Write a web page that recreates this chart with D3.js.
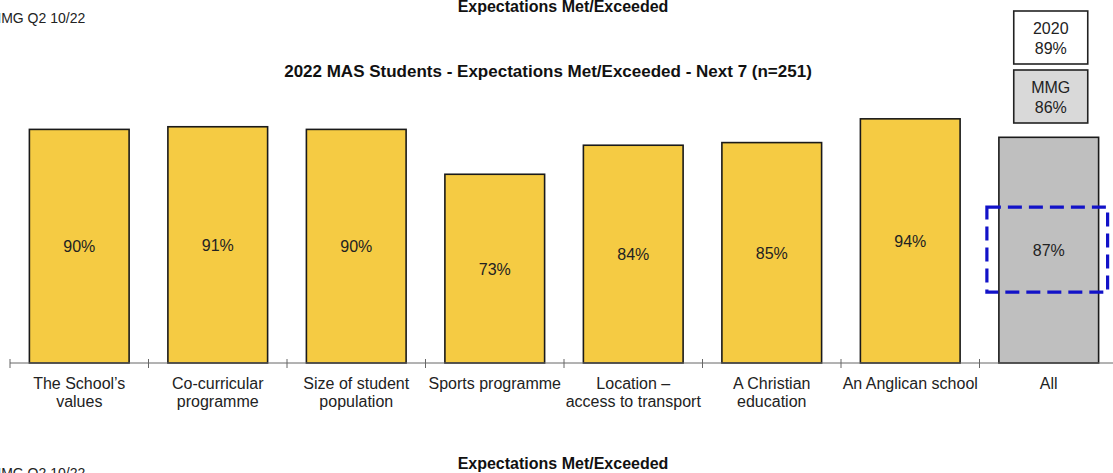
<!DOCTYPE html>
<html>
<head>
<meta charset="utf-8">
<script src="https://cdn.jsdelivr.net/npm/d3@7/dist/d3.min.js"></script>
<style>
  html, body { margin: 0; padding: 0; background: #fff; overflow: hidden; }
  svg { display: block; font-family: "Liberation Sans", Arial, sans-serif; }
</style>
</head>
<body>
<svg id="chart" width="1113" height="473"></svg>
<script>
// ---- data ----
const categories = [
  ["The School\u2019s", "values"],
  ["Co-curricular", "programme"],
  ["Size of student", "population"],
  ["Sports programme"],
  ["Location \u2013", "access to transport"],
  ["A Christian", "education"],
  ["An Anglican school"],
  ["All"]
];
const values = [90, 91, 90, 73, 84, 85, 94, 87];
const highlightIndex = 7; // "All"
const comparisonLabels = ["2020", "MMG"];
const comparisonValues = [89, 86];
const chartTitle = "2022 MAS Students - Expectations Met/Exceeded - Next 7 (n=251)";
const headerText = "Expectations Met/Exceeded";
const footerCode = "MMG Q2 10/22";

// ---- layout ----
const svg = d3.select("#chart");
const W = 1113, H = 473;
const baseY = 363;

const keys = categories.map((c, i) => i);
const x = d3.scaleBand().domain(keys).range([10, 1118]).paddingInner(0.28).paddingOuter(0.14);
const y = d3.scaleLinear().domain([1.5, 100]).range([baseY, 103]);
const gap = x.step() - x.bandwidth();

// header / footer texts
svg.append("text").attr("x", 563).attr("y", 11.5).attr("text-anchor", "middle")
  .attr("font-size", 16).attr("font-weight", "bold").attr("fill", "#111").text(headerText);
svg.append("text").attr("x", -10.5).attr("y", 23)
  .attr("font-size", 14).attr("fill", "#222").text(footerCode);
svg.append("text").attr("x", 563).attr("y", 469).attr("text-anchor", "middle")
  .attr("font-size", 16).attr("font-weight", "bold").attr("fill", "#111").text(headerText);
svg.append("text").attr("x", -10.5).attr("y", 478)
  .attr("font-size", 14).attr("fill", "#222").text(footerCode);

// title
svg.append("text").attr("x", 548).attr("y", 77).attr("text-anchor", "middle")
  .attr("font-size", 17).attr("font-weight", "bold").attr("fill", "#111").text(chartTitle);

// bars
svg.append("g").selectAll("rect").data(values).join("rect")
  .attr("x", (d, i) => x(i))
  .attr("y", d => y(d))
  .attr("width", x.bandwidth())
  .attr("height", d => baseY - y(d))
  .attr("fill", (d, i) => i === highlightIndex ? "#bfbfbf" : "#f5cb43")
  .attr("stroke", "#1a1a1a")
  .attr("stroke-width", 1.6);

// value labels
svg.append("g").selectAll("text").data(values).join("text")
  .attr("x", (d, i) => x(i) + x.bandwidth() / 2)
  .attr("y", d => (y(d) + baseY) / 2 + 6)
  .attr("text-anchor", "middle")
  .attr("font-size", 16).attr("fill", "#222")
  .text(d => d + "%");

// axis
const axisG = svg.append("g");
axisG.append("line").attr("x1", 10).attr("x2", W + 5).attr("y1", baseY).attr("y2", baseY)
  .attr("stroke", "#666").attr("stroke-width", 1);
const tickXs = keys.map(i => x(i) - gap / 2).concat([x(keys.length - 1) + x.bandwidth() + gap / 2]);
axisG.selectAll("line.tick").data(tickXs).join("line").attr("class", "tick")
  .attr("x1", d => d).attr("x2", d => d).attr("y1", baseY - 4).attr("y2", baseY + 5)
  .attr("stroke", "#666").attr("stroke-width", 1);

// category labels
const catG = svg.append("g").selectAll("text").data(categories).join("text")
  .attr("x", (d, i) => x(i) + x.bandwidth() / 2)
  .attr("y", 389)
  .attr("text-anchor", "middle")
  .attr("font-size", 16).attr("fill", "#222");
catG.selectAll("tspan").data(d => d).join("tspan")
  .attr("x", function () { return d3.select(this.parentNode).attr("x"); })
  .attr("dy", (d, j) => j === 0 ? 0 : 18)
  .text(d => d);

// highlight dashed box around the "All" label
const hx = x(highlightIndex), hv = values[highlightIndex];
const hcy = (y(hv) + baseY) / 2;
svg.append("rect")
  .attr("x", hx - 12).attr("y", hcy - 43)
  .attr("width", x.bandwidth() + 21).attr("height", 85)
  .attr("fill", "none").attr("stroke", "#1212c8").attr("stroke-width", 3.2)
  .attr("stroke-dasharray", "14,7");

// comparison boxes above "All"
const boxW = 74, boxH = 53;
const boxX = hx + x.bandwidth() / 2 - boxW / 2 + 2;
const boxYs = [11, 70];
const boxFills = ["#ffffff", "#d9d9d9"];
comparisonLabels.forEach((lab, i) => {
  const g = svg.append("g");
  g.append("rect").attr("x", boxX).attr("y", boxYs[i]).attr("width", boxW).attr("height", boxH)
    .attr("fill", boxFills[i]).attr("stroke", "#222").attr("stroke-width", 1.6);
  g.append("text").attr("x", boxX + boxW / 2).attr("y", boxYs[i] + 23)
    .attr("text-anchor", "middle").attr("font-size", 16).attr("fill", "#222").text(lab);
  g.append("text").attr("x", boxX + boxW / 2).attr("y", boxYs[i] + 43)
    .attr("text-anchor", "middle").attr("font-size", 16).attr("fill", "#222").text(comparisonValues[i] + "%");
});
</script>
</body>
</html>
